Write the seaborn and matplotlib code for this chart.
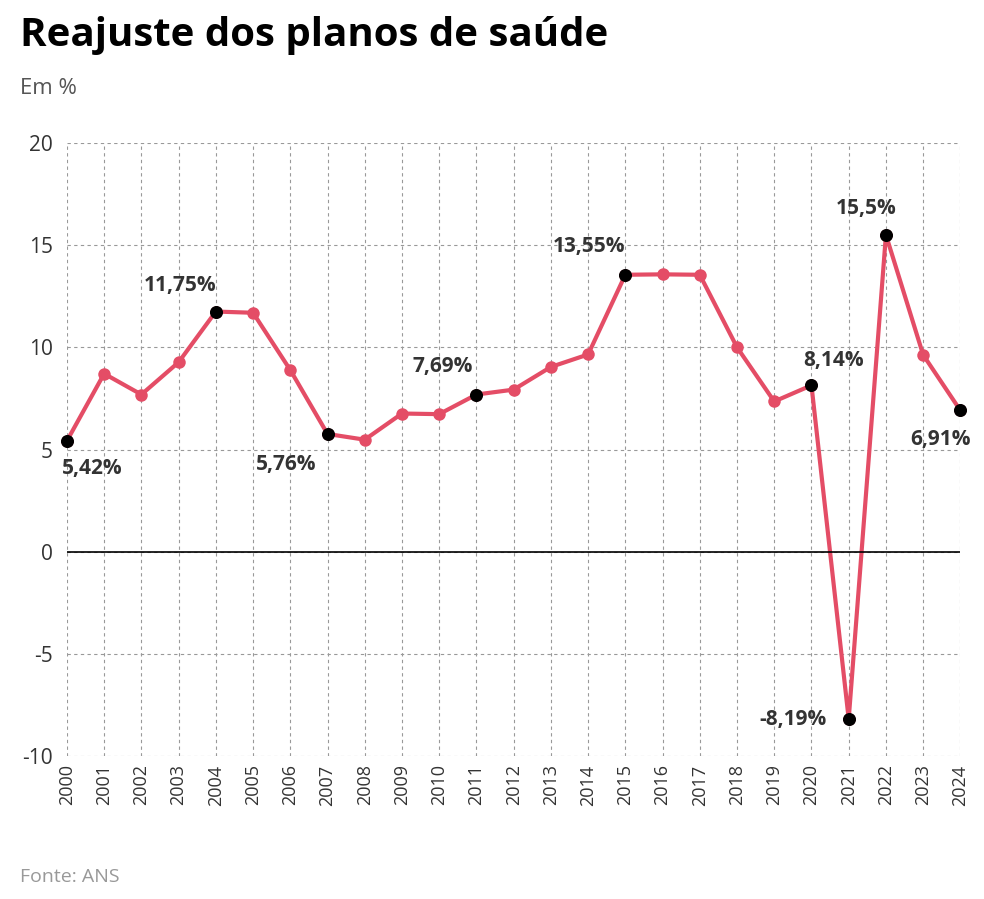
import matplotlib
matplotlib.use("Agg")
import matplotlib.pyplot as plt
import seaborn as sns
import pandas as pd

years = list(range(2000, 2025))
values = [5.42, 8.71, 7.69, 9.27, 11.75, 11.69, 8.89, 5.76, 5.48, 6.76, 6.73, 7.69,
          7.93, 9.04, 9.65, 13.55, 13.57, 13.55, 10.0, 7.35, 8.14, -8.19, 15.5, 9.63, 6.91]
labels = {2000: "5,42%", 2004: "11,75%", 2007: "5,76%", 2011: "7,69%", 2015: "13,55%",
          2020: "8,14%", 2021: "-8,19%", 2022: "15,5%", 2024: "6,91%"}
# label offsets in points
offsets = {2000: (18, -20), 2004: (-26, 19), 2007: (-30, -22), 2011: (-24, 20),
           2015: (-26, 20), 2020: (16, 18), 2021: (-40, 0), 2022: (-14, 19), 2024: (-14, -21)}

df = pd.DataFrame({"ano": years, "valor": values})
plt.rcParams["font.family"] = "Open Sans"
plt.rcParams["axes.unicode_minus"] = False
red = "#e44d66"

fig = plt.figure(figsize=(9.84, 8.99), dpi=100)
ax = fig.add_axes([0.068, 0.159, 0.908, 0.682])
sns.lineplot(data=df, x="ano", y="valor", color=red, lw=3, marker="o", markersize=9,
             markeredgewidth=0, ax=ax, clip_on=False)
hl = df[df["ano"].isin(labels.keys())]
ax.scatter(hl["ano"], hl["valor"], color="black", s=70, zorder=5, clip_on=False)
for y, t in labels.items():
    v = values[years.index(y)]
    ax.annotate(t, (y, v), xytext=offsets[y], textcoords="offset points",
                ha="center", va="center", fontsize=15, fontweight="bold", color="#333333")

ax.set_xlim(2000, 2024)
ax.set_ylim(-10, 20)
ax.set_xticks(years)
ax.set_xticklabels([str(y) for y in years], rotation=90, fontsize=13, color="#333333")
ax.set_yticks(range(-10, 21, 5))
ax.tick_params(axis="y", labelsize=15, colors="#333333", length=0, pad=10)
ax.tick_params(axis="x", length=0, pad=6)
ax.grid(True, ls=(0, (3, 3)), color="#999999", lw=0.8)
ax.axhline(0, color="black", lw=1.2)
for s in ax.spines.values():
    s.set_visible(False)
ax.set_xlabel("")
ax.set_ylabel("")

fig.text(0.02, 0.96, "Reajuste dos planos de saúde", fontsize=29, fontweight="bold", va="center")
fig.text(0.02, 0.902, "Em %", fontsize=16, color="#555555", va="center")
fig.text(0.02, 0.025, "Fonte: ANS", fontsize=14, color="#999999", va="center")
fig.savefig("out.png", dpi=100)
